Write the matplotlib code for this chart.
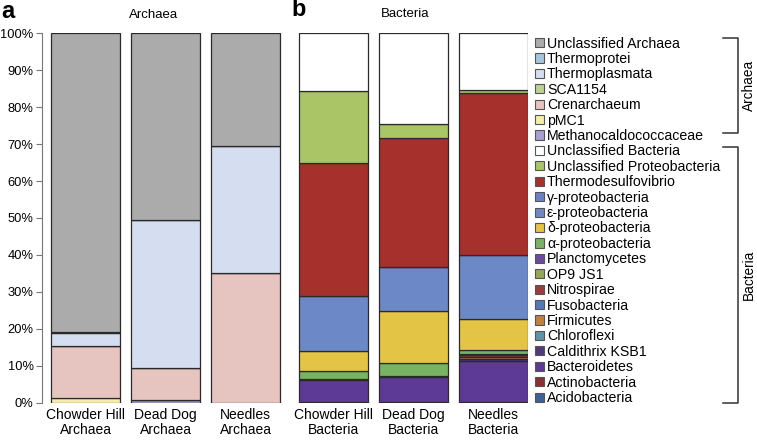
import numpy as np
from matplotlib import pyplot as plt
from matplotlib.patches import Patch
from matplotlib.lines import Line2D

plt.rcParams['font.family'] = ['Liberation Sans', 'DejaVu Sans']

# samples
archaea_samples = ["Chowder Hill\nArchaea", "Dead Dog\nArchaea", "Needles\nArchaea"]
bacteria_samples = ["Chowder Hill\nBacteria", "Dead Dog\nBacteria", "Needles\nBacteria"]

# archaea groups, bottom of stack first (percent)
archaea_names = ["Methanocaldococcaceae", "pMC1", "Crenarchaeum", "SCA1154",
                 "Thermoplasmata", "Thermoprotei", "Unclassified Archaea"]
archaea_colors = ["#a99fd2", "#f4eeaa", "#e6c4bf", "#bdd193",
                  "#d4def0", "#a6c5dd", "#ababab"]
archaea_values = {
    "Methanocaldococcaceae": [0.0, 0.7, 0.0],
    "pMC1":                  [1.3, 0.0, 0.0],
    "Crenarchaeum":          [14.1, 8.7, 35.2],
    "SCA1154":               [0.0, 0.0, 0.0],
    "Thermoplasmata":        [3.4, 40.1, 34.3],
    "Thermoprotei":          [0.3, 0.0, 0.0],
    "Unclassified Archaea":  [80.9, 50.5, 30.5],
}

# bacteria groups, bottom of stack first (percent)
bacteria_names = ["Acidobacteria", "Actinobacteria", "Bacteroidetes", "Caldithrix KSB1",
                  "Chloroflexi", "Firmicutes", "Fusobacteria", "Nitrospirae", "OP9 JS1",
                  "Planctomycetes", "α-proteobacteria", "δ-proteobacteria",
                  "ε-proteobacteria", "γ-proteobacteria", "Thermodesulfovibrio",
                  "Unclassified Proteobacteria", "Unclassified Bacteria"]
bacteria_colors = ["#3f6099", "#8a3232", "#5c3a96", "#4e3b78",
                   "#5d94a8", "#bf8040", "#5677b8", "#9c3c3c", "#94a65a",
                   "#6b4b9e", "#78b462", "#e4c444",
                   "#6d88c6", "#6783c6", "#a6302c",
                   "#a9c566", "#ffffff"]
bacteria_values = {
    "Acidobacteria":               [0.3, 0.2, 0.3],
    "Actinobacteria":              [0.0, 0.0, 0.0],
    "Bacteroidetes":               [5.8, 6.7, 11.0],
    "Caldithrix KSB1":             [0.4, 0.3, 0.4],
    "Chloroflexi":                 [0.0, 0.0, 0.0],
    "Firmicutes":                  [0.0, 0.0, 0.7],
    "Fusobacteria":                [0.0, 0.0, 0.0],
    "Nitrospirae":                 [0.0, 0.0, 0.5],
    "OP9 JS1":                     [0.0, 0.0, 0.0],
    "Planctomycetes":              [0.0, 0.0, 0.3],
    "α-proteobacteria":            [2.2, 3.6, 1.2],
    "δ-proteobacteria":            [5.4, 13.9, 8.2],
    "ε-proteobacteria":            [14.8, 12.1, 17.4],
    "γ-proteobacteria":            [0.0, 0.0, 0.0],
    "Thermodesulfovibrio":         [36.1, 34.8, 43.8],
    "Unclassified Proteobacteria": [19.5, 3.9, 0.9],
    "Unclassified Bacteria":       [15.5, 24.5, 15.3],
}

fig = plt.figure(figsize=(7.57, 4.40), dpi=100)
ax = fig.add_axes([42 / 757, 1 - 402.7 / 440, (528 - 42) / 757, (402.7 - 33.3) / 440])

xa = np.array([0, 1, 2])
xb = np.array([3.1, 4.1, 5.1])
w = 0.87
edge = dict(edgecolor="#2a2a2a", linewidth=0.9)

bottom = np.zeros(3)
for name, col in zip(archaea_names, archaea_colors):
    v = np.array(archaea_values[name])
    ax.bar(xa, v, w, bottom=bottom, color=col, **edge)
    bottom += v

bottom = np.zeros(3)
for name, col in zip(bacteria_names, bacteria_colors):
    v = np.array(bacteria_values[name])
    ax.bar(xb, v, w, bottom=bottom, color=col, **edge)
    bottom += v

ax.set_xlim(-0.544, 5.53)
ax.set_ylim(0, 100)
ax.set_yticks(np.arange(0, 101, 10))
ax.set_yticklabels(["%d%%" % t for t in range(0, 101, 10)], fontsize=9.3)
ax.set_xticks(np.concatenate([xa, xb]))
ax.set_xticklabels(archaea_samples + bacteria_samples, fontsize=10, linespacing=1.05)
ax.tick_params(axis="x", length=0, pad=4)
ax.tick_params(axis="y", length=4, color="#777777", width=0.8, pad=2)
for s in ["top", "right", "bottom"]:
    ax.spines[s].set_visible(False)
ax.spines["left"].set_color("#777777")

# panel titles
fig.text(154 / 757, 1 - 15 / 440, "Archaea", ha="center", va="center", fontsize=9.5)
fig.text(405 / 757, 1 - 14 / 440, "Bacteria", ha="center", va="center", fontsize=9.5)
fig.text(1 / 757, 1 - 11 / 440, "a", ha="left", va="center", fontsize=17, fontweight="bold")
fig.text(291 / 757, 1 - 10 / 440, "b", ha="left", va="center", fontsize=17, fontweight="bold")

# legend, top to bottom
leg_names = archaea_names[::-1] + bacteria_names[::-1]
leg_colors = archaea_colors[::-1] + bacteria_colors[::-1]
handles = [Patch(facecolor=c, edgecolor="#555555", linewidth=0.8) for c in leg_colors]
fig.legend(handles, leg_names, loc="upper left", bbox_to_anchor=(535 / 757, 1 - 36.5 / 440),
           frameon=False, fontsize=10.2, handlelength=0.62, handleheight=0.62,
           handletextpad=0.22, labelspacing=0.1, borderpad=0, borderaxespad=0)

# brackets
def bracket(y0, y1, label):
    x0, x1 = 723 / 757, 738 / 757
    ys = [1 - y0 / 440, 1 - y0 / 440, 1 - y1 / 440, 1 - y1 / 440]
    fig.add_artist(Line2D([x0, x1, x1, x0], ys, color="#333333", linewidth=1.1))
    fig.text(749 / 757, 1 - (y0 + y1) / 2 / 440, label, rotation=90,
             ha="center", va="center", fontsize=9.8)

bracket(38, 133, "Archaea")
bracket(147, 403, "Bacteria")

fig.savefig("out.png", dpi=100)
